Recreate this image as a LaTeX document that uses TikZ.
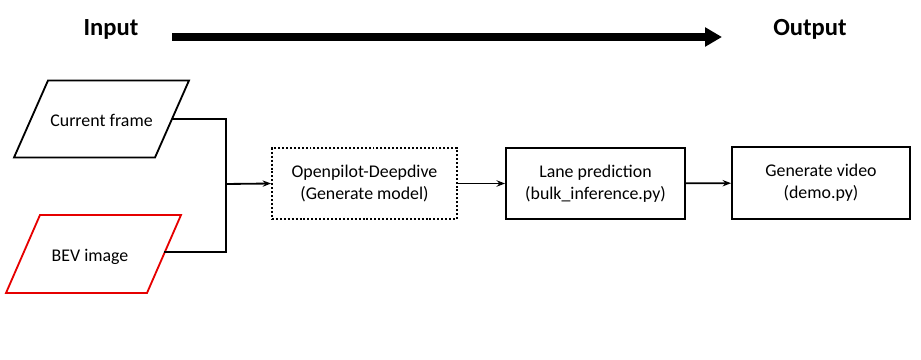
\documentclass[tikz,border=0pt]{standalone}
\usepackage{fontspec}
\setmainfont{Carlito}
\usepackage{tikz}
\usetikzlibrary{arrows.meta,calc,positioning,shapes.geometric}
\definecolor{bevred}{RGB}{230,0,0}

\begin{document}
\begin{tikzpicture}[x=0.025cm,y=-0.025cm,line width=1.3pt,
  txt/.style={font=\fontsize{12.7}{15.6}\selectfont,align=center},
  stepbox/.style={txt,draw,rectangle,minimum height=1.775cm,inner sep=2pt},
  link/.style={-{Stealth[length=6pt,width=4.5pt]}}]
  \useasboundingbox (0,0) rectangle (921,360);
  % header
  \node[font=\fontsize{17.5}{20}\selectfont\bfseries] (inlabel) at (111,29) {Input};
  \node[font=\fontsize{17.5}{20}\selectfont\bfseries] (outlabel) at (810,29) {Output};
  \coordinate (flowstart) at (172,37); \coordinate (flowend) at (722,37);
  \draw[line width=5pt,-{Triangle[length=12pt,width=13pt]}] (flowstart) -- (flowend);
  % inputs (parallelograms)
  \node[txt] (frame) at (101.5,120) {Current frame};
  \draw ($(frame)+(-87.5,37.5)$) -- ++(141,0) -- ++(34,-77) -- ++(-141,0) -- cycle;
  \coordinate (frame-out) at ($(frame)+(70.5,-1)$);
  \node[txt] (bev) at (90,257) {BEV image};
  \draw[bevred] ($(bev)+(-84,36)$) -- ++(141,0) -- ++(34,-78) -- ++(-141,0) -- cycle;
  \coordinate (bev-out) at ($(bev)+(74,-5)$);
  \coordinate (join) at (226,184);
  \draw (frame-out) -| (join); \draw (bev-out) -| (join);
  % processing steps
  \node[stepbox,minimum width=4.625cm,dash pattern=on 1.4pt off 1.4pt] (deepdive) at (364.5,183.5) {Openpilot-Deepdive\\(Generate model)};
  \node[stepbox,minimum width=4.475cm] (lane) at (595.5,183.5) {Lane prediction\\(bulk\_inference.py)};
  \node[stepbox,minimum width=4.45cm,minimum height=1.8cm] (video) at (821,183) {Generate video\\(demo.py)};
  \draw[link] (join) -- (deepdive.west);
  \draw[link] (deepdive) -- (lane); \draw[link] (lane) -- (video);
\end{tikzpicture}
\end{document}
